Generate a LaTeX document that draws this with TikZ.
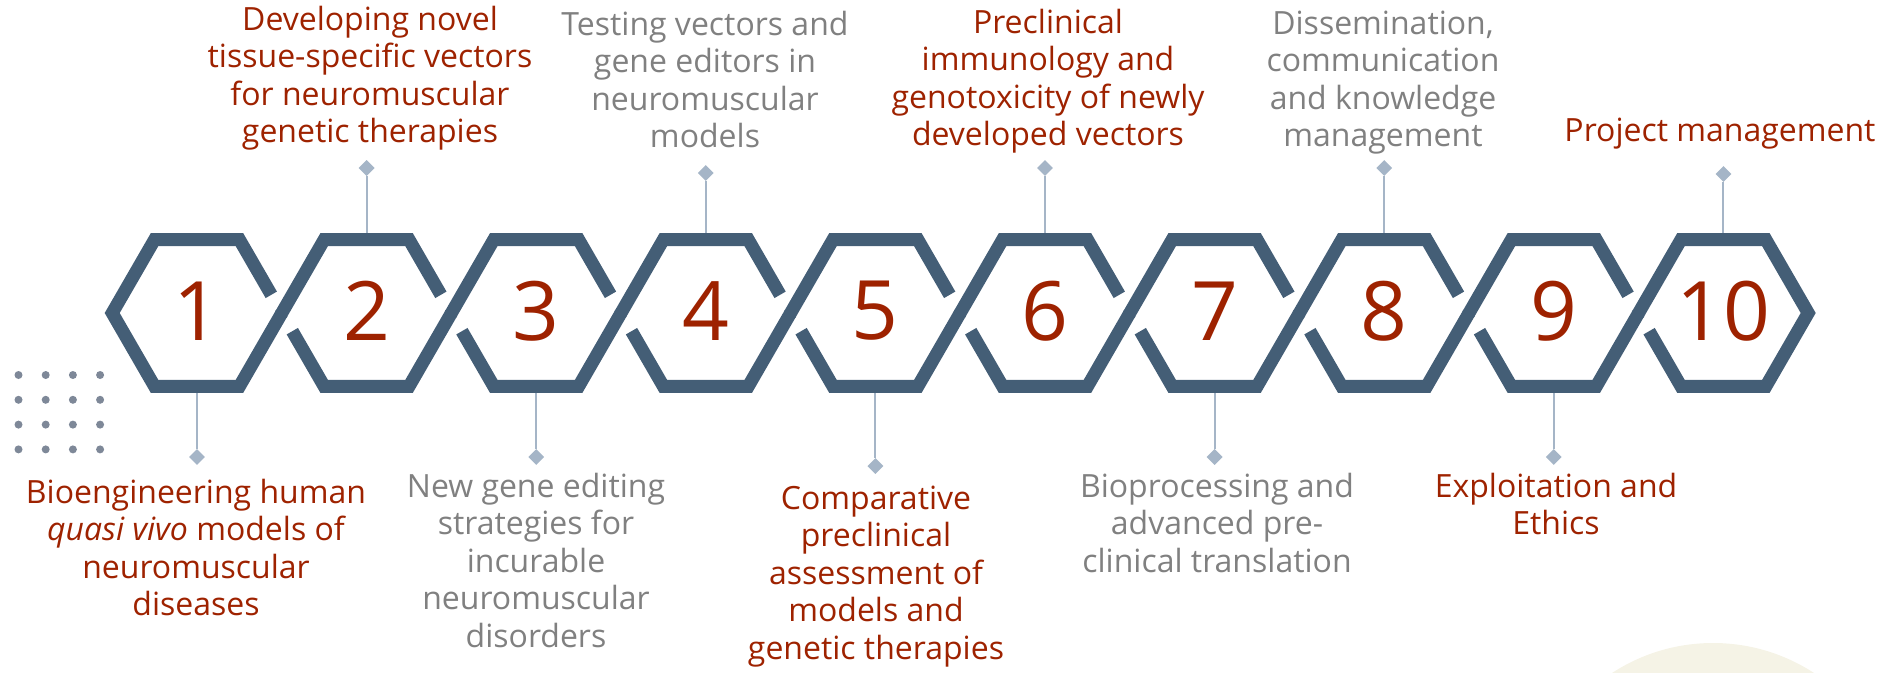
\documentclass[tikz,border=0pt]{standalone}
\usepackage{fontspec}
\setmainfont{Open Sans}
\usetikzlibrary{shapes.geometric}

\definecolor{hexblue}{HTML}{445E76}
\definecolor{wpred}{HTML}{9E2200}
\definecolor{wpgray}{HTML}{808080}
\definecolor{connblue}{HTML}{A5B5C7}
\definecolor{dotgray}{HTML}{7E8898}
\definecolor{sand}{HTML}{F5F3E6}

\tikzset{
  hexline/.style={draw=hexblue, line width=13pt, line join=miter},
  conn/.style={draw=connblue, line width=2pt},
  dia/.style={diamond, fill=connblue, inner sep=0pt, minimum size=16pt},
  num/.style={text=wpred, font=\fontsize{82}{82}\selectfont, inner sep=0pt},
  lab/.style={font=\fontsize{32}{37.6}\selectfont, align=center, inner sep=0pt, anchor=north},
  redlab/.style={lab, text=wpred},
  graylab/.style={lab, text=wpgray}
}

\begin{document}
\begin{tikzpicture}[x=1pt, y=-1pt]
    \useasboundingbox (0,0) rectangle (1895,672);

    % Sand circle, bottom right
    \begin{scope}
        \clip (0,0) rectangle (1895,672);
        \fill[sand] (1713,828) circle (185);
    \end{scope}

    % Dot grid
    \foreach \r in {0,...,3}
        \foreach \c in {0,...,3}
            \fill[dotgray] (18.5+27.2*\c, 375+24.8*\r) circle (4);

    % Hexagon centres, top and bottom edges
    \foreach \i in {1,...,10} {
        \pgfmathsetmacro\x{197+169.6*(\i-1)}
        \coordinate (c\i) at (\x,313);
        \coordinate (t\i) at (\x,239.56);
        \coordinate (b\i) at (\x,386.44);
    }

    % Connectors up (even) and down (odd)
    \foreach \i/\yy in {2/168, 4/173, 6/168, 8/168, 10/174} {
        \node[dia] (d\i) at (c\i |- 0,\yy) {};
        \draw[conn] (t\i) -- (d\i);
    }
    \foreach \i/\yy in {1/457, 3/457, 5/466, 7/457, 9/457} {
        \node[dia] (d\i) at (c\i |- 0,\yy) {};
        \draw[conn] (b\i) -- (d\i);
    }

    % First hexagon (closed left corner)
    \draw[hexline] (281.8,313) -- (239.4,386.44) -- (154.6,386.44) -- (112.2,313)
        -- (154.6,239.56) -- (239.4,239.56) -- (271.3,294.81);

    % Middle hexagons, broken where they cross
    \foreach \i in {2,...,9} {
        \pgfmathsetmacro\x{197+169.6*(\i-1)}
        \draw[hexline] (\x-85.8,314.73) -- (\x-42.4,239.56) -- (\x+42.4,239.56) -- (\x+74.3,294.81);
        \draw[hexline] (\x+84.8,313) -- (\x+42.4,386.44) -- (\x-42.4,386.44) -- (\x-74.3,331.19);
    }

    % Last hexagon (closed right corner)
    \draw[hexline] (1637.6,314.73) -- (1681,239.56) -- (1765.8,239.56) -- (1808.2,313)
        -- (1765.8,386.44) -- (1681,386.44) -- (1649.1,331.19);

    % Numbers
    \foreach \i in {1,...,10}
        \node[num] (n\i) at (c\i |- 0,311) {\i};

    % Labels above
    \node[redlab] (l2) at (370,5.5) {Developing novel\\tissue-specific vectors\\for neuromuscular\\genetic therapies};
    \node[graylab] (l4) at (705,10.5) {Testing vectors and\\gene editors in\\neuromuscular\\models};
    \node[redlab] (l6) at (1048,8.5) {Preclinical\\immunology and\\genotoxicity of newly\\developed vectors};
    \node[graylab] (l8) at (1383,10.5) {Dissemination,\\communication\\and knowledge\\management};
    \node[redlab] (l10) at (1720,117.5) {Project management};

    % Labels below
    \node[redlab] (l1) at (196,478.5) {Bioengineering human\\\textit{quasi vivo} models of\\neuromuscular\\diseases};
    \node[graylab] (l3) at (536,472.5) {New gene editing\\strategies for\\incurable\\neuromuscular\\disorders};
    \node[redlab] (l5) at (876,485.5) {Comparative\\preclinical\\assessment of\\models and\\genetic therapies};
    \node[graylab] (l7) at (1217,472.5) {Bioprocessing and\\advanced pre-\\clinical translation};
    \node[redlab] (l9) at (1556,472.5) {Exploitation and\\Ethics};
\end{tikzpicture}
\end{document}
